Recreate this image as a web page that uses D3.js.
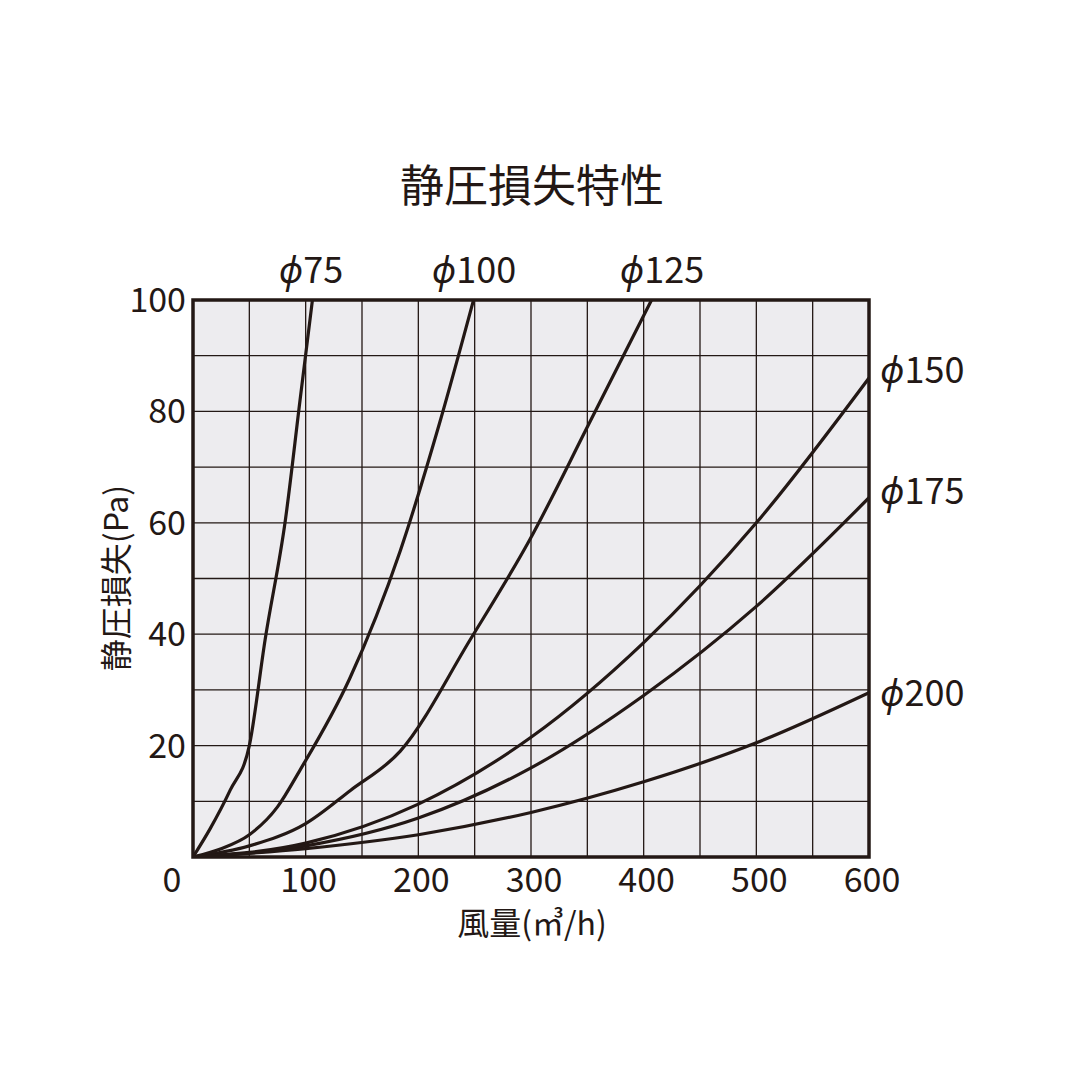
<!DOCTYPE html><html><head><meta charset="utf-8"><script src="https://cdn.jsdelivr.net/npm/d3@7"></script>
<style>body{margin:0;background:#fff}text{font-family:"Noto Sans CJK JP","Noto Sans",sans-serif;fill:#231815}</style></head><body><svg id="c" width="1080" height="1080"></svg><script>
const xTicks=[100,200,300,400,500,600];
const yTicks=[20,40,60,80,100];
const seriesNames=["ϕ75","ϕ100","ϕ125","ϕ150","ϕ175","ϕ200"];
const s75=[[0,0],[15,5],[33,12],[50,20],[64,39],[82,60.5],[95,82],[106,100]];
const s100=[[0,0],[25,1.5],[50,4],[75,9],[95,15.6],[139,32],[184,55],[219,78],[249,100]];
const s125=[[0,0],[50,2],[100,6],[140,12],[184,19],[246,39],[299,57],[352,78],[407,100]];
const s150=[[0,0],[100,2.5],[200,9.5],[300,21.5],[400,38.5],[500,60],[600,86]];
const s175=[[0,0],[100,2],[200,7],[300,16],[400,29],[500,45],[600,64.5]];
const s200=[[0,0],[100,1.5],[200,4],[300,8],[400,13.5],[500,20.5],[600,29.5]];
const all=[s75,s100,s125,s150,s175,s200];
const svg=d3.select("#c"),C="#231815";
const x=d3.scaleLinear([0,600],[193,869]),y=d3.scaleLinear([0,100],[857,300]);
svg.append("rect").attr("x",193).attr("y",300).attr("width",676).attr("height",557).attr("fill","#edecef");
const g=svg.append("g").attr("stroke",C).attr("stroke-width",1.3);
d3.range(50,600,50).forEach(v=>g.append("line").attr("x1",x(v)).attr("x2",x(v)).attr("y1",300).attr("y2",857));
d3.range(10,100,10).forEach(v=>g.append("line").attr("y1",y(v)).attr("y2",y(v)).attr("x1",193).attr("x2",869));
const cp=svg.append("clipPath").attr("id","cp").append("rect").attr("x",193).attr("y",300).attr("width",676).attr("height",557);
const line=d3.line().x(d=>x(d[0])).y(d=>y(d[1])).curve(d3.curveMonotoneX);
all.forEach(s=>svg.append("path").attr("d",line(s)).attr("fill","none").attr("stroke",C).attr("stroke-width",3.2).attr("clip-path","url(#cp)"));
svg.append("rect").attr("x",193).attr("y",300).attr("width",676).attr("height",557).attr("fill","none").attr("stroke",C).attr("stroke-width",3.5);
svg.append("text").attr("x",172).attr("y",892).attr("text-anchor","middle").attr("font-size",34).text("0");
xTicks.forEach(v=>svg.append("text").attr("x",x(v)+3).attr("y",892).attr("text-anchor","middle").attr("font-size",34).text(v));
yTicks.forEach(v=>svg.append("text").attr("x",186).attr("y",y(v)+12).attr("text-anchor","end").attr("font-size",34).text(v));
svg.append("text").attr("x",532).attr("y",202).attr("text-anchor","middle").attr("font-size",44).text("静圧損失特性");
svg.append("text").attr("x",532).attr("y",935).attr("text-anchor","middle").attr("font-size",32).text("風量(㎥/h)");
svg.append("text").attr("transform","translate(128,578) rotate(-90)").attr("text-anchor","middle").attr("font-size",32).text("静圧損失(Pa)");
const lp=[[311,283,"middle"],[474,283,"middle"],[662,283,"middle"],[880,383,"start"],[880,504,"start"],[880,706,"start"]];
seriesNames.forEach((n,i)=>{const t=svg.append("text").attr("x",lp[i][0]).attr("y",lp[i][1]).attr("text-anchor",lp[i][2]).attr("font-size",36);
t.append("tspan").attr("font-style","italic").text(n[0]);t.append("tspan").text(n.slice(1));});
</script></body></html>
